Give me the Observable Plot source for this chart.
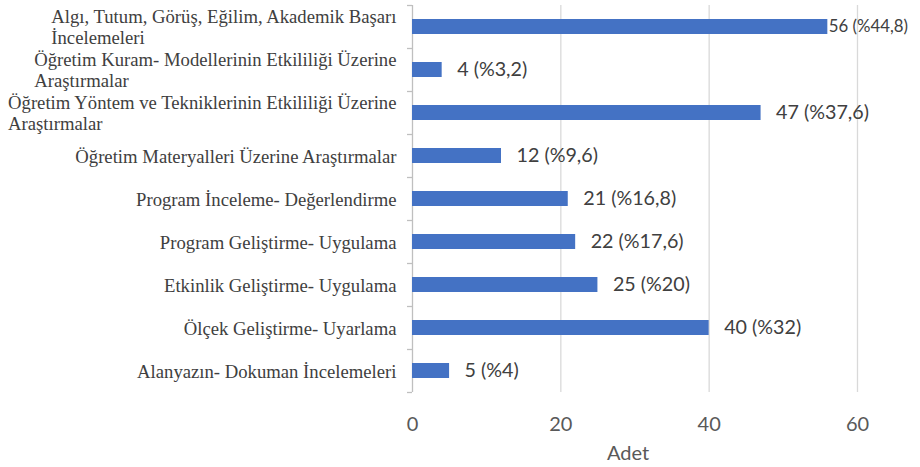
<!DOCTYPE html>
<html><head><meta charset="utf-8">
<script src="https://cdn.jsdelivr.net/npm/d3@7"></script>
<script src="https://cdn.jsdelivr.net/npm/@observablehq/plot@0.6"></script>
<style>body{margin:0;background:#fff}#chart svg{display:block}</style>
</head><body><div id="chart"></div>
<script>
const categories = [
  "Algı, Tutum, Görüş, Eğilim, Akademik Başarı\nİncelemeleri",
  "Öğretim Kuram- Modellerinin Etkililiği Üzerine\nAraştırmalar",
  "Öğretim Yöntem ve Tekniklerinin Etkililiği Üzerine\nAraştırmalar",
  "Öğretim Materyalleri Üzerine Araştırmalar",
  "Program İnceleme- Değerlendirme",
  "Program Geliştirme- Uygulama",
  "Etkinlik Geliştirme- Uygulama",
  "Ölçek Geliştirme- Uyarlama",
  "Alanyazın- Dokuman İncelemeleri"
];
const counts = [56, 4, 47, 12, 21, 22, 25, 40, 5];
const percents = [44.8, 3.2, 37.6, 9.6, 16.8, 17.6, 20, 32, 4];
const xTicks = [0, 20, 40, 60];
const xLabel = "Adet";

const data = categories.map((c, i) => ({
  cat: c,
  n: counts[i],
  label: `${counts[i]} (%${String(percents[i]).replace(".", ",")})`
}));
const maxN = d3.max(counts);

const chart = Plot.plot({
  width: 920,
  height: 467,
  marginLeft: 412,
  marginRight: 63,
  marginTop: 5,
  marginBottom: 75,
  style: {background: "#fff"},
  x: {domain: [0, 60]},
  y: {domain: categories, paddingInner: 0.65, paddingOuter: 0.325},
  marks: [
    Plot.gridX(xTicks.filter(t => t !== 0), {stroke: "#d9d9d9", strokeOpacity: 1, strokeWidth: 1.3}),
    Plot.ruleX([0], {stroke: "#bfbfbf", strokeWidth: 1.3}),
    Plot.ruleY(categories, {y: d => d, dy: -21.5, x1: 0, x2: 0, insetLeft: -5, stroke: "#bfbfbf", strokeWidth: 1.3}),
    Plot.ruleY(categories.slice(-1), {y: d => d, dy: 21.5, x1: 0, x2: 0, insetLeft: -5, stroke: "#bfbfbf", strokeWidth: 1.3}),
    Plot.barX(data, {x: "n", y: "cat", fill: "#4472c4"}),
    Plot.text(data.filter(d => d.n !== maxN), {x: "n", y: "cat", text: "label", dx: 15, textAnchor: "start",
      fontSize: 19.7, fontFamily: "Lato", fill: "#404040"}),
    Plot.text(data.filter(d => d.n === maxN), {x: "n", y: "cat", text: "label", dx: 1, textAnchor: "start",
      fontSize: 16.8, fontFamily: "Lato", fill: "#404040"}),
    Plot.axisY({tickSize: 0, tickPadding: 16, fontSize: 18.7, fontFamily: "Liberation Serif",
      color: "#404040", lineHeight: 1.1, label: null}),
    Plot.axisX({ticks: xTicks, tickSize: 0, tickPadding: 24, fontSize: 20, fontFamily: "Lato",
      color: "#595959", label: xLabel, labelAnchor: "center", labelArrow: "none", labelOffset: 67})
  ]
});
document.getElementById("chart").appendChild(chart);

// Left-align wrapped lines inside a right-aligned block (as in the reference)
chart.querySelectorAll('[aria-label="y-axis tick label"] text').forEach(t => {
  const spans = t.querySelectorAll("tspan");
  if (spans.length > 1) {
    const w = d3.max(Array.from(spans), s => s.getComputedTextLength());
    t.setAttribute("text-anchor", "start");
    spans.forEach(s => s.setAttribute("x", -w));
  }
});
// Axis title sits slightly left of the frame centre in the reference
const lab = chart.querySelector('[aria-label="x-axis label"] text');
if (lab) lab.setAttribute("dx", "-7");
</script>
</body></html>
